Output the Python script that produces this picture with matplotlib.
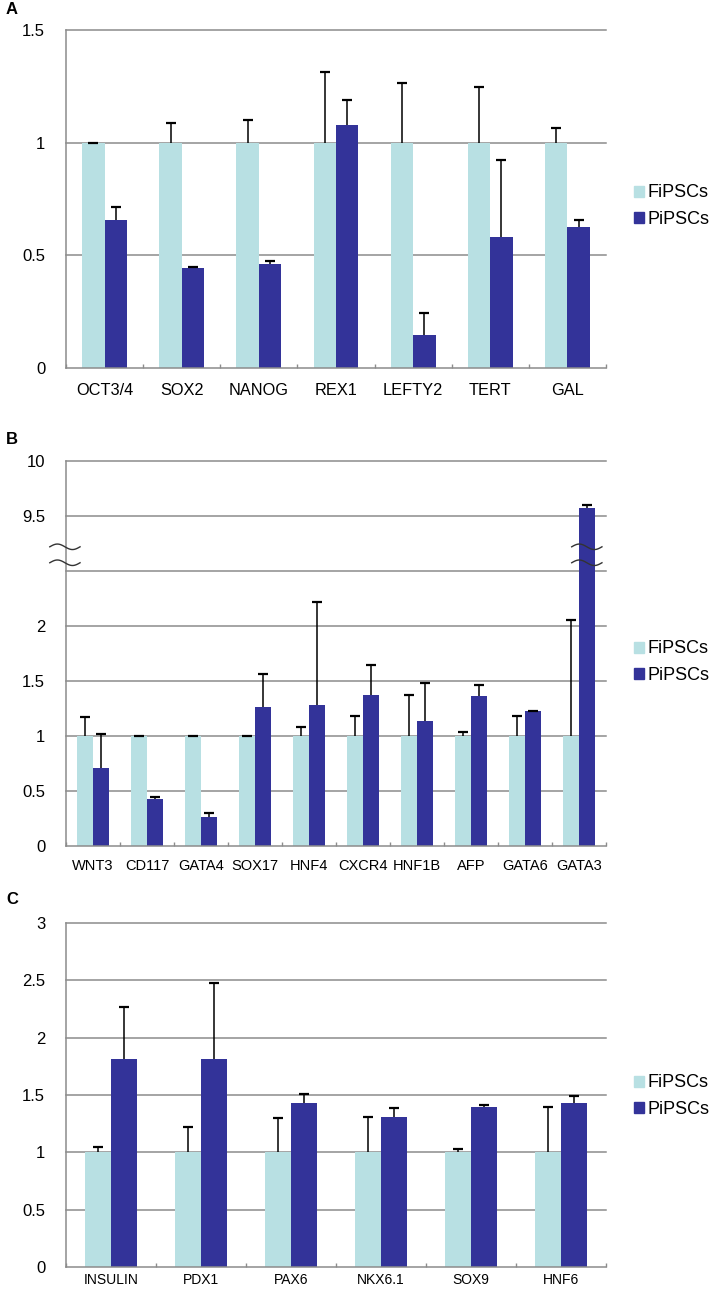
import matplotlib
matplotlib.use('Agg')
import matplotlib.pyplot as plt
import matplotlib.transforms as mtransforms
from matplotlib.patches import Patch
import numpy as np

plt.rcParams['font.family'] = ['Liberation Sans', 'DejaVu Sans']

# panel A - pluripotency markers
genes_a = ['OCT3/4', 'SOX2', 'NANOG', 'REX1', 'LEFTY2', 'TERT', 'GAL']
fi_a = [1, 1, 1, 1, 1, 1, 1]
fi_err_a = [0.0, 0.087, 0.10, 0.315, 0.267, 0.248, 0.063]
pi_a = [0.655, 0.445, 0.46, 1.08, 0.145, 0.58, 0.627]
pi_err_a = [0.06, 0.005, 0.016, 0.11, 0.10, 0.345, 0.028]

# panel B - endoderm markers (broken axis above 2.5)
genes_b = ['WNT3', 'CD117', 'GATA4', 'SOX17', 'HNF4', 'CXCR4', 'HNF1B', 'AFP', 'GATA6', 'GATA3']
fi_b = [1, 1, 1, 1, 1, 1, 1, 1, 1, 1]
fi_err_b = [0.176, 0.0, 0.0, 0.0, 0.079, 0.18, 0.373, 0.033, 0.18, 1.055]
pi_b = [0.706, 0.427, 0.267, 1.264, 1.279, 1.373, 1.136, 1.364, 1.224, 9.575]
pi_err_b = [0.31, 0.023, 0.033, 0.30, 0.94, 0.27, 0.35, 0.10, 0.006, 0.025]

# panel C - pancreatic markers
genes_c = ['INSULIN', 'PDX1', 'PAX6', 'NKX6.1', 'SOX9', 'HNF6']
fi_c = [1, 1, 1, 1, 1, 1]
fi_err_c = [0.047, 0.218, 0.30, 0.305, 0.026, 0.395]
pi_c = [1.811, 1.817, 1.427, 1.308, 1.395, 1.433]
pi_err_c = [0.456, 0.66, 0.079, 0.079, 0.018, 0.055]

series = ['FiPSCs', 'PiPSCs']
c_fi = '#B8E0E3'
c_pi = '#333399'
grid_c = '#8C8C8C'

W, H = 714, 1291
fig = plt.figure(figsize=(W / 100, H / 100), dpi=100)


def px_axes(left, top, right, bottom):
    return fig.add_axes([left / W, 1 - bottom / H, (right - left) / W, (bottom - top) / H])


def brk(v):
    # squeeze 9.0..10 down onto 2.5..3.5
    v = np.asarray(v, dtype=float)
    return np.where(v > 2.5, v - 6.5, v)


def up_err(ax, xs, vals, tops):
    # one-sided error bar: stem from bar top, cap only at the upper end
    ax.vlines(xs, vals, tops, color='black', lw=1.1, zorder=3)
    ax.plot(xs, tops, ls='none', marker='_', ms=6.5, mew=1.6, color='black', zorder=3)


def panel(ax, genes, fi, fi_err, pi, pi_err, ylim, yticks, ylabels, grid_at, xfs, xpad, legend_y):
    n = len(genes)
    x = np.arange(n)
    w = 0.29
    fi = np.asarray(fi, float)
    pi = np.asarray(pi, float)
    for g in grid_at:
        ax.axhline(g, color=grid_c, lw=1.1, zorder=0, clip_on=False)
    ax.bar(x - w / 2, brk(fi), w, color=c_fi, zorder=2)
    ax.bar(x + w / 2, brk(pi), w, color=c_pi, zorder=2)
    up_err(ax, x - w / 2, brk(fi), brk(fi + np.asarray(fi_err)))
    up_err(ax, x + w / 2, brk(pi), brk(pi + np.asarray(pi_err)))
    ax.set_xlim(-0.5, n - 0.5)
    ax.set_ylim(*ylim)
    ax.set_yticks(yticks)
    ax.set_yticklabels(ylabels, fontsize=12)
    ax.tick_params(axis='y', length=0, pad=15)
    ax.set_xticks(x)
    ax.set_xticklabels(genes, fontsize=xfs)
    ax.tick_params(axis='x', length=0, pad=xpad)
    ax.set_xticks(np.arange(n + 1) - 0.5, minor=True)
    ax.tick_params(axis='x', which='minor', direction='in', length=3, color=grid_c, width=1)
    for s in ['top', 'right']:
        ax.spines[s].set_visible(False)
    for s in ['left', 'bottom']:
        ax.spines[s].set_color(grid_c)
        ax.spines[s].set_linewidth(1.1)
    handles = [Patch(color=c_fi), Patch(color=c_pi)]
    fig.legend(handles, series, loc='center left', bbox_to_anchor=(634 / W, 1 - legend_y / H),
               frameon=False, fontsize=13, handlelength=0.55, handleheight=0.55,
               handletextpad=0.2, labelspacing=0.5, borderaxespad=0, borderpad=0)


axA = px_axes(66, 30, 606, 368)
panel(axA, genes_a, fi_a, fi_err_a, pi_a, pi_err_a, (0, 1.5),
      [0, 0.5, 1, 1.5], ['0', '0.5', '1', '1.5'], [0.5, 1, 1.5], 11.8, 11, 206)

axB = px_axes(66, 461, 606, 846)
panel(axB, genes_b, fi_b, fi_err_b, pi_b, pi_err_b, (0, 3.5),
      [0, 0.5, 1, 1.5, 2, 3, 3.5], ['0', '0.5', '1', '1.5', '2', '9.5', '10'],
      [0.5, 1, 1.5, 2, 2.5, 3, 3.5], 10.5, 9, 662)

# wavy break marks on the axis and on the GATA3 bar
t = np.linspace(0, 1, 60)
trans = mtransforms.blended_transform_factory(axB.transAxes, axB.transData)
for yb in [2.575, 2.72]:
    axB.plot(-0.03 + 0.056 * t, yb + 0.025 * np.sin(2 * np.pi * t), color='#333333',
             lw=1.0, transform=trans, clip_on=False, zorder=5)
    axB.plot(9.145 - 0.28 + 0.56 * t, yb + 0.025 * np.sin(2 * np.pi * t), color='#333333',
             lw=1.0, clip_on=False, zorder=5)

axC = px_axes(66, 923, 606, 1267)
panel(axC, genes_c, fi_c, fi_err_c, pi_c, pi_err_c, (0, 3),
      [0, 0.5, 1, 1.5, 2, 2.5, 3], ['0', '0.5', '1', '1.5', '2', '2.5', '3'],
      [0.5, 1, 1.5, 2, 2.5, 3], 10, 4, 1096)

for lab, yy in [('A', 9), ('B', 439), ('C', 899)]:
    fig.text(6 / W, 1 - yy / H, lab, fontsize=12, fontweight='bold', va='center', ha='left')

fig.savefig('out.png', dpi=100)
